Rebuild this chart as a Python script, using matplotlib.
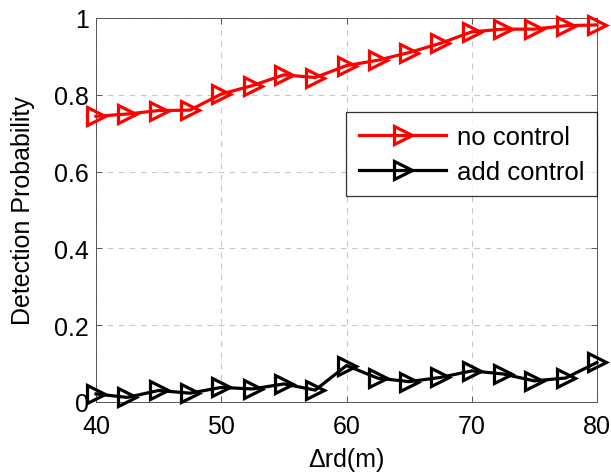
import matplotlib
matplotlib.use("Agg")
from matplotlib import pyplot as plt
from matplotlib.ticker import FuncFormatter

plt.rcParams['font.family'] = ['Liberation Sans', 'DejaVu Sans']

# data
delta_rd = [40, 42.5, 45, 47.5, 50, 52.5, 55, 57.5, 60, 62.5, 65, 67.5, 70, 72.5, 75, 77.5, 80]
no_control = [0.744, 0.750, 0.759, 0.760, 0.802, 0.824, 0.852, 0.845, 0.876,
              0.890, 0.910, 0.934, 0.964, 0.971, 0.971, 0.980, 0.982]
add_control = [0.021, 0.012, 0.030, 0.023, 0.038, 0.034, 0.047, 0.031, 0.095,
               0.062, 0.053, 0.064, 0.081, 0.073, 0.055, 0.0625, 0.103]

fig = plt.figure(figsize=(6.11, 4.77), dpi=100)
ax = fig.add_axes([96 / 611, 1 - 403 / 477, 501 / 611, 384 / 477])

ax.plot(delta_rd, no_control, color='red', lw=2.3, marker='>', ms=13,
        mew=2.3, fillstyle='none', label='no control', clip_on=False, zorder=3)
ax.plot(delta_rd, add_control, color='black', lw=2.3, marker='>', ms=13,
        mew=2.3, fillstyle='none', label='add control', clip_on=False, zorder=3)

ax.set_xlim(40, 80)
ax.set_ylim(0, 1)
ax.set_xticks([40, 50, 60, 70, 80])
ax.set_yticks([0, 0.2, 0.4, 0.6, 0.8, 1])
ax.yaxis.set_major_formatter(FuncFormatter(lambda v, p: '%g' % v))
ax.grid(True, ls=(0, (5, 5)), color='#c8c8c8', lw=0.8)
ax.tick_params(direction='in', top=True, right=True, labelsize=18,
               length=4, width=0.6, color='#444444')
ax.tick_params(axis='x', pad=9)
ax.tick_params(axis='y', pad=5)
for s in ax.spines.values():
    s.set_color('#555555')
    s.set_linewidth(0.7)

ax.set_xlabel('Δrd(m)', fontsize=18, labelpad=6)
ax.set_ylabel('Detection Probability', fontsize=18, labelpad=14)

leg = ax.legend(loc='upper right', bbox_to_anchor=(1.0, 1 - (113 - 19) / 384),
                fontsize=18.5, frameon=True, fancybox=False, edgecolor='black',
                borderpad=0.5, handlelength=3.4, handletextpad=0.4,
                labelspacing=0.42, borderaxespad=0)
leg.get_frame().set_linewidth(0.9)

fig.savefig('out.png', dpi=100)
